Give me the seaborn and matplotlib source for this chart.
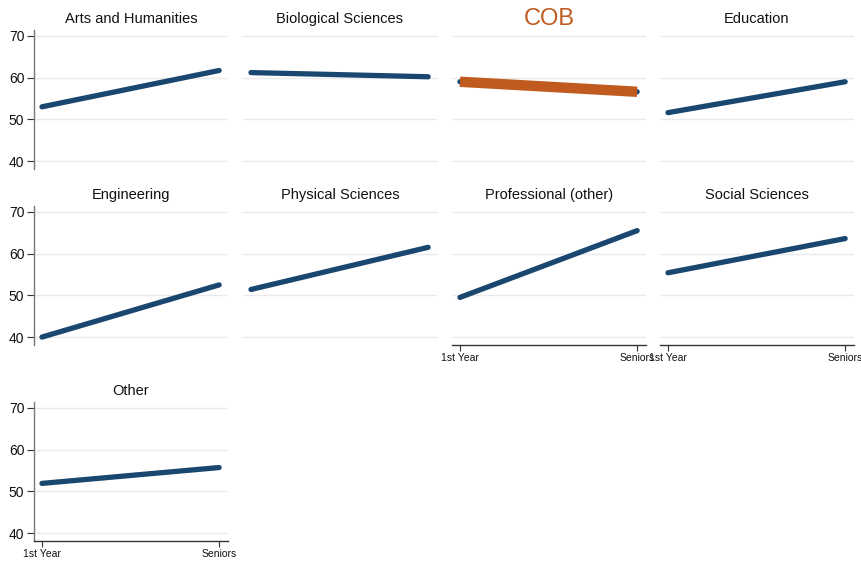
import matplotlib
matplotlib.use("Agg")
import matplotlib.pyplot as plt
import seaborn as sns
import pandas as pd

sns.set_theme(style="white")
plt.rcParams['font.family'] = ['Liberation Sans', 'DejaVu Sans']

# ---- data ----
panels = ["Arts and Humanities", "Biological Sciences", "COB", "Education",
          "Engineering", "Physical Sciences", "Professional (other)", "Social Sciences",
          "Other"]
first_year = [53.0, 61.2, 59.0, 51.6, 40.0, 51.4, 49.5, 55.4, 51.9]
seniors    = [61.7, 60.2, 56.6, 59.0, 52.5, 61.5, 65.5, 63.6, 55.7]
x_labels = ["1st Year", "Seniors"]
y_ticks = [40, 50, 60, 70]

rows = []
for p, a, b in zip(panels, first_year, seniors):
    rows.append({"panel": p, "pos": 0, "value": a})
    rows.append({"panel": p, "pos": 1, "value": b})
df = pd.DataFrame(rows)

W, H = 862, 564
fig = plt.figure(figsize=(W / 100, H / 100), dpi=100)

col_left = [34, 243, 452, 660]
panel_w = 194
row_top = [30, 206, 402]
panel_h = 139

navy = "#1a476f"
orange = "#c05a1f"

for i, p in enumerate(panels):
    r, c = divmod(i, 4)
    left = col_left[c] / W
    bottom = 1 - (row_top[r] + panel_h) / H
    ax = fig.add_axes([left, bottom, panel_w / W, panel_h / H])
    sub = df[df["panel"] == p]
    sns.lineplot(data=sub, x="pos", y="value", ax=ax, color=navy, linewidth=3.8,
                 solid_capstyle="round")
    if p == "COB":
        sns.lineplot(data=sub, x="pos", y="value", ax=ax, color=orange, linewidth=7.5,
                     solid_capstyle="butt")
    ax.set_xlim(-0.045, 1.05)
    ax.set_ylim(38.1, 71.4)
    ax.set_yticks(y_ticks)
    ax.grid(axis="y", color="#eaeaea", linewidth=1.0)
    ax.grid(axis="x", visible=False)
    ax.set_axisbelow(True)
    ax.set_xlabel("")
    ax.set_ylabel("")
    for s in ["top", "right"]:
        ax.spines[s].set_visible(False)
    # y axis only on first column
    if c == 0:
        ax.spines["left"].set_color("#777777")
        ax.spines["left"].set_linewidth(1.0)
        ax.tick_params(axis="y", left=True, length=5, width=0.8, color="#333333",
                       labelsize=10, pad=2, labelcolor="#111111")
    else:
        ax.spines["left"].set_visible(False)
        ax.tick_params(axis="y", left=False, labelleft=False)
    # x axis on bottom-most panel of each column
    show_x = i >= 6
    if show_x:
        ax.set_xticks([0, 1])
        ax.set_xticklabels(x_labels)
        ax.spines["bottom"].set_color("#333333")
        ax.spines["bottom"].set_linewidth(1.0)
        ax.tick_params(axis="x", bottom=True, length=4, width=0.8, color="#333333",
                       labelsize=7.5, pad=2, labelcolor="#111111")
    else:
        ax.spines["bottom"].set_visible(False)
        ax.set_xticks([])
    if p == "COB":
        ax.set_title(p, fontsize=17, color=orange, pad=3)
    else:
        ax.set_title(p, fontsize=10.5, color="#111111", pad=5)

fig.savefig("out.png", dpi=100, facecolor="white")
